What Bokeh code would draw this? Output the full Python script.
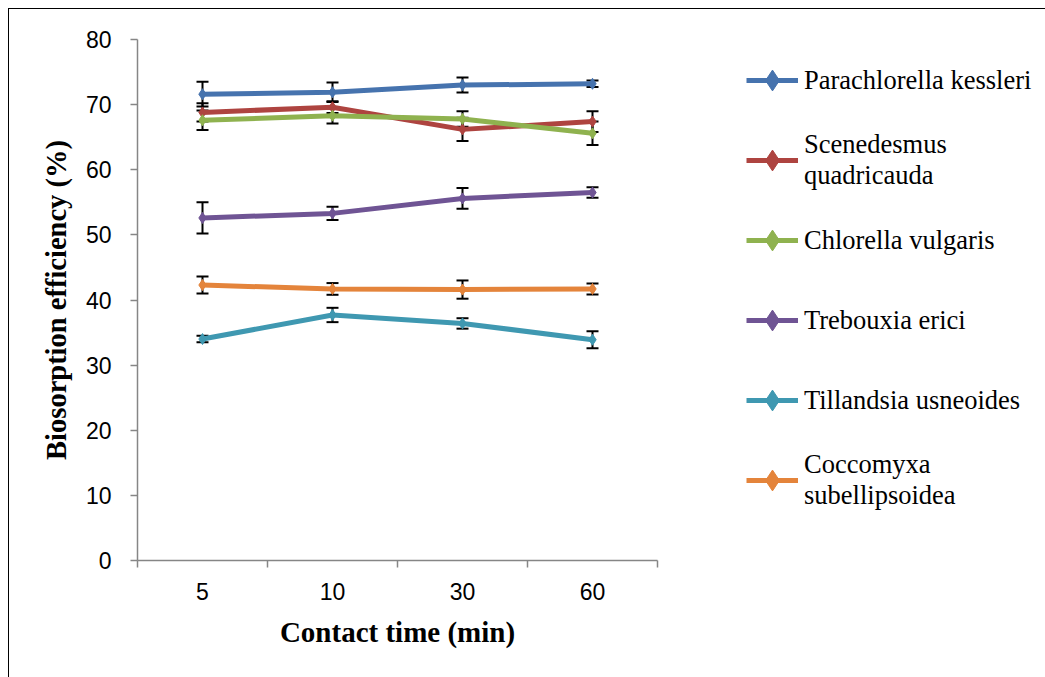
from bokeh.plotting import figure
from bokeh.models import (ColumnDataSource, Whisker, Legend, LegendItem, FixedTicker,
                          Range1d, TeeHead)
from bokeh.embed import file_html
from bokeh.resources import INLINE

# ---- data ----
times = ["5", "10", "30", "60"]
series_names = ["Parachlorella kessleri", "Scenedesmus\nquadricauda", "Chlorella vulgaris",
                "Trebouxia erici", "Tillandsia usneoides", "Coccomyxa\nsubellipsoidea"]
parachlorella = [71.6, 71.9, 73.0, 73.2]
parachlorella_err = [1.9, 1.5, 1.15, 0.5]
scenedesmus = [68.8, 69.6, 66.2, 67.4]
scenedesmus_err = [1.4, 0.9, 1.8, 1.6]
chlorella = [67.6, 68.3, 67.8, 65.6]
chlorella_err = [1.5, 1.2, 1.2, 1.8]
trebouxia = [52.6, 53.3, 55.6, 56.5]
trebouxia_err = [2.4, 1.0, 1.6, 0.8]
tillandsia = [34.0, 37.7, 36.4, 33.9]
tillandsia_err = [0.5, 1.1, 0.8, 1.3]
coccomyxa = [42.3, 41.7, 41.6, 41.7]
coccomyxa_err = [1.3, 0.9, 1.4, 0.85]
colors = ["#4673AE", "#AE4440", "#8FB24F", "#6F5494", "#3F98B1", "#E4843B"]

values = [parachlorella, scenedesmus, chlorella, trebouxia, tillandsia, coccomyxa]
errors = [parachlorella_err, scenedesmus_err, chlorella_err, trebouxia_err,
          tillandsia_err, coccomyxa_err]

xpos = [i + 0.5 for i in range(len(times))]

p = figure(frame_width=520, frame_height=521, output_backend="svg", toolbar_location=None,
           x_range=Range1d(0, len(times)), y_range=Range1d(0, 80),
           min_border_left=128, min_border_right=0, min_border_top=30,
           min_border_bottom=118)
p.styles = {"margin-left": "8px", "margin-top": "8px",
            "border-left": "1px solid black", "border-top": "1px solid black"}
p.outline_line_color = None
p.xgrid.visible = False
p.ygrid.visible = False
p.background_fill_color = "white"
p.border_fill_color = "white"

axis_color = "#868686"
tick_font = "Liberation Sans"

# x axis
xa = p.xaxis[0]
xa.ticker = FixedTicker(ticks=xpos, minor_ticks=list(range(len(times) + 1)))
xa.major_label_overrides = {x: t for x, t in zip(xpos, times)}
xa.major_tick_out = 0
xa.major_tick_in = 0
xa.minor_tick_out = 7
xa.minor_tick_in = 0
xa.minor_tick_line_color = axis_color
xa.axis_line_color = axis_color
xa.axis_line_width = 1.5
xa.minor_tick_line_width = 1.5
xa.major_label_text_font = tick_font
xa.major_label_text_font_size = "23px"
xa.major_label_text_color = "black"
xa.major_label_standoff = 15
xa.axis_label = "Contact time (min)"
xa.axis_label_text_font = "Liberation Serif"
xa.axis_label_text_font_style = "bold"
xa.axis_label_text_font_size = "29px"
xa.axis_label_text_color = "black"
xa.axis_label_standoff = 13

# y axis
ya = p.yaxis[0]
ya.ticker = FixedTicker(ticks=list(range(0, 81, 10)))
ya.minor_tick_line_color = None
ya.major_tick_out = 7
ya.major_tick_in = 0
ya.major_tick_line_color = axis_color
ya.major_tick_line_width = 1.5
ya.axis_line_color = axis_color
ya.axis_line_width = 1.5
ya.major_label_text_font = tick_font
ya.major_label_text_font_size = "23px"
ya.major_label_text_color = "black"
ya.major_label_standoff = 19
ya.axis_label = "Biosorption efficiency (%)"
ya.axis_label_text_font = "Liberation Serif"
ya.axis_label_text_font_style = "bold"
ya.axis_label_text_font_size = "28.5px"
ya.axis_label_text_color = "black"
ya.axis_label_standoff = 11

items = []
for name, vals, errs, col in zip(series_names, values, errors, colors):
    src = ColumnDataSource(dict(x=xpos, y=vals,
                                lo=[v - e for v, e in zip(vals, errs)],
                                hi=[v + e for v, e in zip(vals, errs)]))
    ln = p.line("x", "y", source=src, line_color=col, line_width=5)
    mk = p.scatter("x", "y", source=src, marker="diamond", size=11,
                   fill_color=col, line_color=col)
    w = Whisker(base="x", lower="lo", upper="hi", source=src,
                line_color="black", line_width=2,
                upper_head=TeeHead(size=12, line_color="black", line_width=2),
                lower_head=TeeHead(size=12, line_color="black", line_width=2))
    p.add_layout(w)
    items.append(LegendItem(label=name, renderers=[ln, mk]))

legend = Legend(items=items, location=(89, 49), orientation="vertical",
                glyph_width=52, glyph_height=62, label_height=62, spacing=18,
                label_standoff=6, padding=0, margin=0,
                label_text_font="Liberation Serif", label_text_font_size="26.5px",
                label_text_color="black", border_line_color=None,
                background_fill_alpha=0)
p.add_layout(legend, "right")

open("out.html", "w").write(file_html(p, INLINE))
